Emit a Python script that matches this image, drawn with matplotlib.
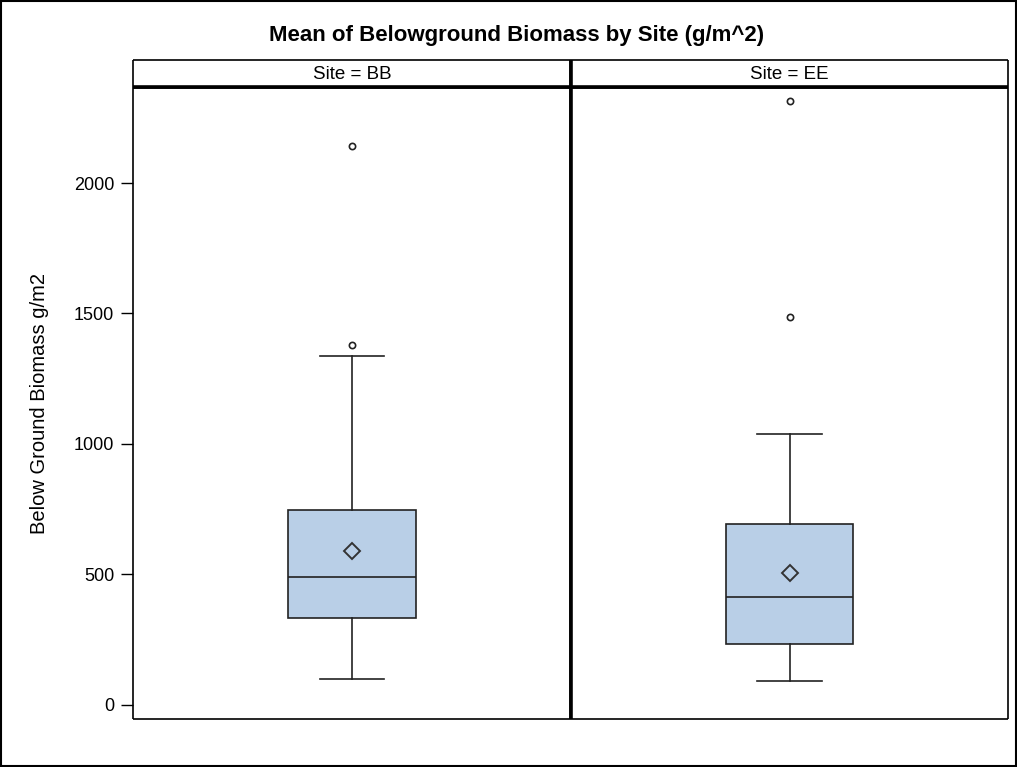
import matplotlib
matplotlib.use("Agg")
import matplotlib.pyplot as plt
from matplotlib.patches import Rectangle

plt.rcParams["font.family"] = ["Liberation Sans", "DejaVu Sans"]

sites = ["BB", "EE"]
q1 = [333, 234]
median = [490, 414]
q3 = [747, 693]
whisker_low = [100, 92]
whisker_high = [1337, 1038]
mean = [590, 506]
outliers = [[1379, 2142], [1487, 2314]]

yticks = [0, 500, 1000, 1500, 2000]

fig = plt.figure(figsize=(10.17, 7.67), dpi=100)
W, H = 1017, 767

left, right = 133 / W, 1008 / W
divider = 571 / W
bottom, top = 1 - 719 / H, 1 - 87 / H
strip_top = 1 - 60 / H

edges = [left, divider, right]
box_color = "#b9cfe7"
line_kw = dict(color="#222222", linewidth=1.2)


def style_spines(a, inner_side):
    for s in a.spines.values():
        s.set_linewidth(1.2)
        s.set_capstyle("butt")
    a.spines[inner_side].set_linewidth(2.6)


for i, site in enumerate(sites):
    x0, x1 = edges[i], edges[i + 1]
    inner = "right" if i == 0 else "left"

    ax = fig.add_axes([x0, bottom, x1 - x0, top - bottom])
    stats = [{
        "med": median[i], "q1": q1[i], "q3": q3[i],
        "whislo": whisker_low[i], "whishi": whisker_high[i],
        "mean": mean[i], "fliers": outliers[i],
    }]
    ax.bxp(stats, positions=[0], widths=0.29, showmeans=True, patch_artist=True,
           boxprops=dict(facecolor=box_color, edgecolor="#222222", linewidth=1.2),
           medianprops=line_kw, whiskerprops=line_kw, capprops=line_kw,
           capwidths=0.147,
           meanprops=dict(marker="D", markersize=8, markerfacecolor="none",
                          markeredgecolor="#333333", markeredgewidth=1.4),
           flierprops=dict(marker="o", markersize=4.5, markerfacecolor="none",
                           markeredgecolor="#222222", markeredgewidth=1.2))
    ax.set_xlim(-0.5, 0.5)
    ax.set_ylim(-54, 2368)
    ax.set_xticks([])
    style_spines(ax, inner)
    ax.spines["top"].set_linewidth(2.6)
    if i == 0:
        ax.set_yticks(yticks)
        ax.tick_params(axis="y", labelsize=13, length=9, width=1, pad=4.5)
        ax.set_ylabel("Below Ground Biomass g/m2", fontsize=14.5, labelpad=18)
    else:
        ax.set_yticks([])

    # header strip with the site name
    sax = fig.add_axes([x0, top, x1 - x0, strip_top - top])
    sax.set_xticks([])
    sax.set_yticks([])
    style_spines(sax, inner)
    sax.spines["bottom"].set_linewidth(2.6)
    sax.text(0.5, 0.45, f"Site = {site}", ha="center", va="center", fontsize=13.5,
             transform=sax.transAxes)

fig.text(517 / W, 1 - 35 / H, "Mean of Belowground Biomass by Site (g/m^2)",
         ha="center", va="center", fontsize=16, fontweight="bold")

# outer frame
fig.patches.append(Rectangle((0.001, 0.001), 0.998, 0.998, transform=fig.transFigure,
                             fill=False, edgecolor="black", linewidth=1.5))

fig.savefig("out.png", dpi=100)
